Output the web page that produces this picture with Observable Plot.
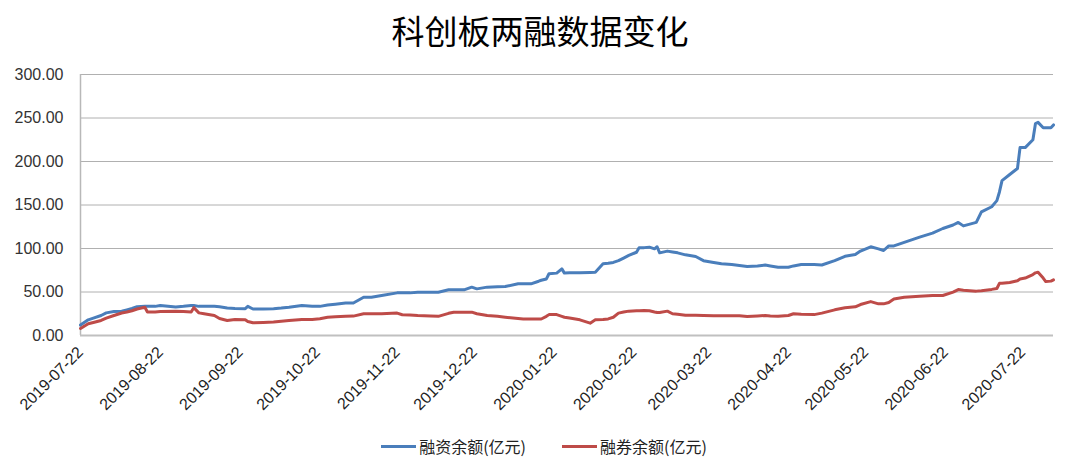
<!DOCTYPE html>
<html>
<head>
<meta charset="utf-8">
<script src="https://cdn.jsdelivr.net/npm/d3@7"></script>
<script src="https://cdn.jsdelivr.net/npm/@observablehq/plot@0.6"></script>
<style>
  html, body { margin: 0; padding: 0; background: #fff; }
  body { width: 1080px; height: 466px; overflow: hidden; font-family: "Liberation Sans", Arial, sans-serif; }
  #title { height: 60px; line-height: 60px; text-align: center; font-size: 33px; font-family: "Noto Sans CJK SC", sans-serif; color: #000; }
  #chart svg { display: block; }
  #legend { position: absolute; top: 435px; left: 0; width: 1080px; height: 22px; display: flex; justify-content: center; align-items: center; padding-left: 8px; box-sizing: border-box; font-family: "Noto Sans CJK SC", sans-serif; font-size: 16px; color: #222; }
  .item { display: flex; align-items: center; margin: 0 18px; }
  .sw { width: 35px; height: 3px; margin-right: 3px; }
</style>
</head>
<body>
<div id="title">科创板两融数据变化</div>
<div id="chart"></div>
<div id="legend"></div>
<script>
const seriesNames = ["融资余额(亿元)", "融券余额(亿元)"];
const seriesColors = ["#4a7ebb", "#be4b48"];

const dates = [
  "2019-07-22","2019-07-25","2019-07-27","2019-07-30","2019-08-01","2019-08-04","2019-08-07","2019-08-09","2019-08-11","2019-08-13",
  "2019-08-16","2019-08-17","2019-08-20","2019-08-22","2019-08-28","2019-08-31","2019-09-03","2019-09-04","2019-09-06","2019-09-08",
  "2019-09-12","2019-09-14","2019-09-17","2019-09-20","2019-09-24","2019-09-25","2019-09-27","2019-10-01","2019-10-05","2019-10-08",
  "2019-10-11","2019-10-16","2019-10-20","2019-10-23","2019-10-26","2019-10-29","2019-11-02","2019-11-05","2019-11-09","2019-11-12",
  "2019-11-16","2019-11-22","2019-11-24","2019-11-27","2019-11-30","2019-12-05","2019-12-08","2019-12-12","2019-12-14","2019-12-18",
  "2019-12-21","2019-12-23","2019-12-27","2019-12-31","2020-01-03","2020-01-08","2020-01-10","2020-01-13","2020-01-16","2020-01-17",
  "2020-01-19","2020-01-20","2020-01-23","2020-01-25","2020-01-26","2020-01-28","2020-02-01","2020-02-05","2020-02-07","2020-02-10",
  "2020-02-12","2020-02-14","2020-02-16","2020-02-18","2020-02-20","2020-02-23","2020-02-24","2020-02-26","2020-02-28","2020-03-01",
  "2020-03-02","2020-03-03","2020-03-06","2020-03-08","2020-03-10","2020-03-13","2020-03-17","2020-03-20","2020-03-24","2020-03-27",
  "2020-03-31","2020-04-03","2020-04-06","2020-04-10","2020-04-13","2020-04-15","2020-04-18","2020-04-22","2020-04-24","2020-04-27",
  "2020-05-02","2020-05-05","2020-05-10","2020-05-14","2020-05-18","2020-05-20","2020-05-24","2020-05-27","2020-05-29","2020-05-31",
  "2020-06-02","2020-06-06","2020-06-12","2020-06-17","2020-06-21","2020-06-25","2020-06-27","2020-06-29","2020-07-04","2020-07-06",
  "2020-07-10","2020-07-12","2020-07-13","2020-07-14","2020-07-17","2020-07-20","2020-07-21","2020-07-23","2020-07-26","2020-07-27",
  "2020-07-28","2020-07-30","2020-07-31","2020-08-02","2020-08-03"
];

const financing = [
  12,18,20,23,26,27.5,28,29.5,31,33,
  33.5,33.5,33.5,34.5,32.7,33.5,34.5,34.5,33.5,33.5,
  33.5,33,31.5,31,30.8,33.5,30.5,30.5,30.8,31.5,
  32.5,34.5,33.5,33.5,35,36,37.3,37.3,44,44,
  46,49,49,49,49.8,49.8,49.8,52.5,52.5,52.5,
  55.6,53.6,55.6,56,56.3,59.4,59.4,59.4,62.4,63.5,
  65,71,71.7,76.6,71.7,72,72,72.5,72.8,82.4,
  83,84,86,89,92,95.7,100.8,101,101.5,99.6,
  102,95,97,96,95,92.7,90.8,86,84,82.4,
  81.5,80.5,79.3,80,81,80,78.5,78.5,80,81.5,
  81.5,81,86,91,93,97,102,99.6,97.7,103,
  103,107,113,117.6,123,127,130,126,130,142,
  148,155,165,178,185,192,216,216,225,243.6,
  245,238.7,238.7,238.7,242
];

const lending = [
  8,13.5,15,17.3,20,23,25.8,27,28.5,30.5,
  32.5,27,27,27.5,28,27.5,27,32,26,25,
  23,19.5,17.3,18.5,18,16,14.6,15,15.4,16.5,
  17.3,18.5,18.5,19.2,21,21.5,22,22.3,25,25,
  25,25.8,23.8,23.5,23,22.5,22,25.5,26.8,26.8,
  26.8,25,23,22,21,19.5,19,19,19,19,
  22,24,24,22,21,20,18,14.2,18,18.5,
  19.1,21,25.7,27,28,28.5,28.5,28.7,28.5,27,
  26.4,26.4,28,25,24.5,23.4,23.2,23,22.8,22.6,
  22.6,22.6,21.8,22.5,23,22.5,22,23,25,24.5,
  24,25.7,29.5,31.8,33,35.6,39,36.4,36.4,38,
  42,44,45,46,46,49.8,52.8,52,51,51.5,
  53,54,60,60,61,63,65,66,70,72,
  72.8,66,62,62.5,64
];

const xTickLabels = [
  "2019-07-22","2019-08-22","2019-09-22","2019-10-22","2019-11-22","2019-12-22",
  "2020-01-22","2020-02-22","2020-03-22","2020-04-22","2020-05-22","2020-06-22","2020-07-22"
];
const yTicks = [0, 50, 100, 150, 200, 250, 300];
const xDomain = ["2019-07-22", "2020-08-03"];

const parse = d3.utcParse("%Y-%m-%d");
const fmt = d3.utcFormat("%Y-%m-%d");

const rows = [];
dates.forEach((d, i) => {
  rows.push({date: parse(d), value: financing[i], series: seriesNames[0]});
  rows.push({date: parse(d), value: lending[i], series: seriesNames[1]});
});

const chart = Plot.plot({
  width: 1080,
  height: 370,
  marginTop: 14,
  marginBottom: 95,
  marginLeft: 80,
  marginRight: 27,
  style: {fontFamily: "'Liberation Sans', Arial, sans-serif", fontSize: "16px", color: "#333", background: "#fff"},
  x: {type: "utc", domain: xDomain.map(parse), label: null},
  y: {domain: [0, 300], label: null},
  color: {domain: seriesNames, range: seriesColors},
  marks: [
    Plot.gridY(yTicks, {stroke: "#b0b0b0", strokeOpacity: 1}),
    Plot.ruleX([parse(xDomain[0])], {stroke: "#b8b8b8", strokeWidth: 1.5}),
    Plot.ruleY([0], {stroke: "#c0c0c0", strokeWidth: 2}),
    Plot.line(rows, {x: "date", y: "value", z: "series", stroke: "series", strokeWidth: 3, curve: "linear"}),
    Plot.axisY(yTicks, {tickFormat: d => d.toFixed(2), tickSize: 0, tickPadding: 17, fontSize: 16, fill: "#333", label: null}),
    Plot.axisX(xTickLabels.map(parse), {tickFormat: fmt, tickSize: 0, tickPadding: 14, tickRotate: -45, fontSize: 16, fill: "#222", label: null})
  ]
});
document.getElementById("chart").appendChild(chart);

const legend = document.getElementById("legend");
seriesNames.forEach((name, i) => {
  const item = document.createElement("div");
  item.className = "item";
  const sw = document.createElement("div");
  sw.className = "sw";
  sw.style.background = seriesColors[i];
  const t = document.createElement("span");
  t.textContent = name;
  item.appendChild(sw);
  item.appendChild(t);
  legend.appendChild(item);
});
</script>
</body>
</html>
